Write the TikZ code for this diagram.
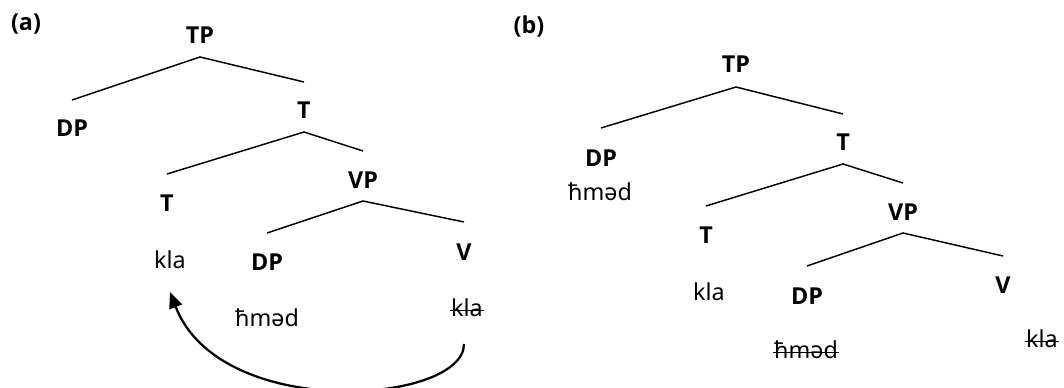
\documentclass[tikz,border=0pt]{standalone}
\usepackage{fontspec}
\setmainfont{Noto Sans}
\newfontfamily\catfont{Open Sans}
\usetikzlibrary{arrows.meta,calc}

\begin{document}
\begin{tikzpicture}[x=0.75pt,y=-0.75pt,
  cat/.style={font=\fontsize{17.5}{21}\selectfont\catfont\bfseries},
  word/.style={font=\fontsize{17.5}{21}\selectfont},
  copy/.style={word,inner xsep=0.5pt},
  branch/.style={line width=1.1pt},
  strike/.style={line width=1.1pt},
  movearrow/.style={line width=1.7pt,-{Triangle[length=12pt,width=10pt]}}]
  \useasboundingbox (0,0) rectangle (1064,388);

  % tree (a)
  \node[cat] (lbla) at (26,24) {(a)};
  \node[cat] (atp) at (200,35) {TP};
  \node[cat] (adp) at (72,128) {DP};
  \node[cat] (atbar) at (304,110) {T};
  \node[cat] (at) at (167,203) {T};
  \node[cat] (avp) at (363,180) {VP};
  \node[cat] (avpdp) at (267,262) {DP};
  \node[cat] (av) at (464,252) {V};
  \node[word] (akla) at (170,260) {kla};
  \node[word] (ahmed) at (267,318) {ħməd};
  \node[copy] (avkla) at (467,308) {kla};
  \draw[strike] ($(avkla.base west)+(0,-6)$) -- ($(avkla.base east)+(0,-6)$);

  \draw[branch] ($(adp)+(0,-28)$) -- ($(atp)+(0,22)$) -- ($(atbar)+(0,-28)$);
  \draw[branch] ($(at)+(0,-29)$) -- ($(atbar)+(0,22)$) -- ($(avp)+(0,-29)$);
  \draw[branch] ($(avpdp)+(0,-29)$) -- ($(avp)+(0,21)$) -- ($(av)+(0,-30)$);

  \draw[movearrow] ($(avkla)+(-3,36)$) .. controls ($(avkla)+(-3,96)$) and ($(akla)+(50,162)$) .. ($(akla)+(0,32)$);

  % tree (b)
  \node[cat] (lblb) at (529,26) {(b)};
  \node[cat] (btp) at (736,64) {TP};
  \node[cat] (bdp) at (601,158) {DP};
  \node[cat] (btbar) at (843,142) {T};
  \node[cat] (bt) at (706,235) {T};
  \node[cat] (bvp) at (903,212) {VP};
  \node[cat] (bvpdp) at (807,296) {DP};
  \node[cat] (bv) at (1003,285) {V};
  \node[word] (bhmed) at (600,192) {ħməd};
  \node[word] (bkla) at (709,292) {kla};
  \node[copy] (bhmedc) at (806,350) {ħməd};
  \node[copy] (bvkla) at (1042,339) {kla};
  \draw[strike] ($(bhmedc.base west)+(0,-6)$) -- ($(bhmedc.base east)+(0,-6)$);
  \draw[strike] ($(bvkla.base west)+(0,-6)$) -- ($(bvkla.base east)+(0,-6)$);

  \draw[branch] ($(bdp)+(0,-30)$) -- ($(btp)+(0,23)$) -- ($(btbar)+(0,-28)$);
  \draw[branch] ($(bt)+(0,-29)$) -- ($(btbar)+(0,22)$) -- ($(bvp)+(0,-29)$);
  \draw[branch] ($(bvpdp)+(0,-30)$) -- ($(bvp)+(0,21)$) -- ($(bv)+(0,-29)$);
\end{tikzpicture}
\end{document}
